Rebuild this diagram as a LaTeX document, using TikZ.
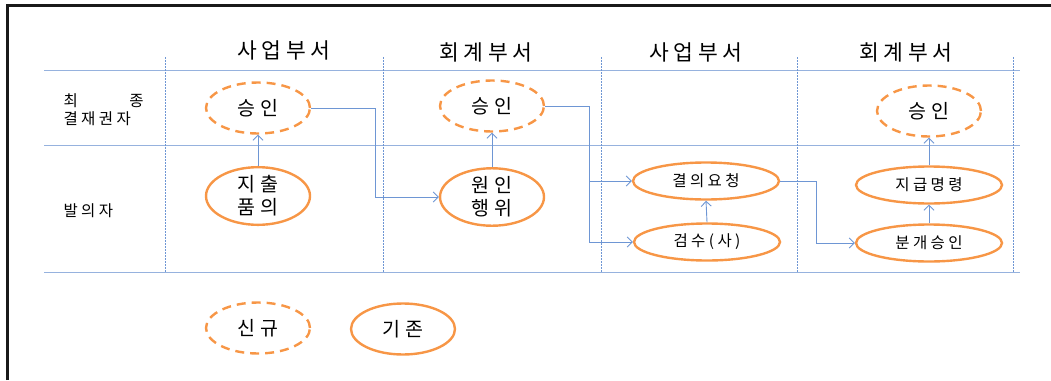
\documentclass[tikz,border=0pt]{standalone}
\usepackage{fontspec}
\setmainfont{Noto Sans CJK KR}[LetterSpace=22]
\usetikzlibrary{arrows.meta,calc,positioning,shapes.geometric}
\definecolor{my_orange}{RGB}{247, 150, 70}
\definecolor{my_blue}{RGB}{110, 150, 212}
\definecolor{my_grid}{RGB}{150, 178, 222}
\tikzset{
  stepnode/.style = {ellipse, draw=my_orange, line width=2.4pt, inner sep=0pt, align=center,
  text=black, font=\fontsize{19.5}{23}\selectfont},
  new_n/.style = {stepnode, dash pattern=on 9pt off 6pt, minimum width=104pt, minimum height=51pt},
  old_n/.style = {stepnode, minimum width=104pt, minimum height=57pt},
  old_w/.style = {stepnode, minimum width=146pt, minimum height=37pt, font=\fontsize{15.5}{17}\selectfont},
  head/.style = {font=\fontsize{21.5}{24}\selectfont},
  rowlabel/.style = {font=\fontsize{15.5}{18}\selectfont, anchor=west, align=left}
}
\begin{document}
\begin{tikzpicture}[x=1pt, y=-1pt, >={Straight Barb[length=5pt,width=10pt]},
        flow/.style={->, draw=my_blue, line width=0.9pt},
        lane/.style={draw=my_grid, line width=1pt},
        sep/.style={draw=my_blue, line width=1pt, dash pattern=on 1.5pt off 1.5pt}]
    \useasboundingbox (0,0) rectangle (1051,380);
    % frame
    \draw[line width=3pt, black!90] (7,380) -- (7,5) -- (1051,5);
    % swim lanes
    \foreach \y in {70,145,272}
        \draw[lane] (44,\y) -- (1020,\y);
    \foreach \x in {165,383,601,797,1013}
        \draw[sep] (\x,57) -- (\x,272);
    % column heads
    \node[head] (h1) at (284,50) {사업부서};
    \node[head] (h2) at (486,52) {회계부서};
    \node[head] (h3) at (696,52) {사업부서};
    \node[head] (h4) at (906,52) {회계부서};
    % row heads
    \node[rowlabel] (r1) at (60,110) {\makebox[80pt][s]{최\hfill 종}\\결재권자};
    \node[rowlabel] (r2) at (60,211) {발의자};
    % steps
    \node[new_n] (appr1) at (258,108) {승인};
    \node[old_n] (draft) at (258,196) {지출\\품의};
    \node[new_n] (appr2) at (492,106) {승인};
    \node[old_n] (cause) at (492,197) {원인\\행위};
    \node[old_w] (req) at (706,181) {결의요청};
    \node[old_w] (insp) at (707,242) {검수(사)};
    \node[new_n] (appr3) at (929,111) {승인};
    \node[old_w] (pay) at (929,185) {지급명령};
    \node[old_w] (jour) at (929,243) {분개승인};
    % legend
    \node[new_n] (lnew) at (258,328) {신규};
    \node[old_n, minimum height=51pt] (lold) at (403,329) {기존};
    % connectors
    \draw[flow] (draft.north) -- (appr1.south);
    \draw[flow] (appr1.east) -- ++(64,0) |- (cause.west);
    \draw[flow] (cause.north) -- (appr2.south);
    \draw[flow] (appr2.east) -- ++(44,0) coordinate (split) |- (req.west);
    \draw[flow] (split) |- (insp.west);
    \draw[flow] (insp.north) -- (req.south);
    \draw[flow] (req.east) -- ++(36,0) |- (jour.west);
    \draw[flow] (jour.north) -- (pay.south);
    \draw[flow] (pay.north) -- (appr3.south);
\end{tikzpicture}
\end{document}
